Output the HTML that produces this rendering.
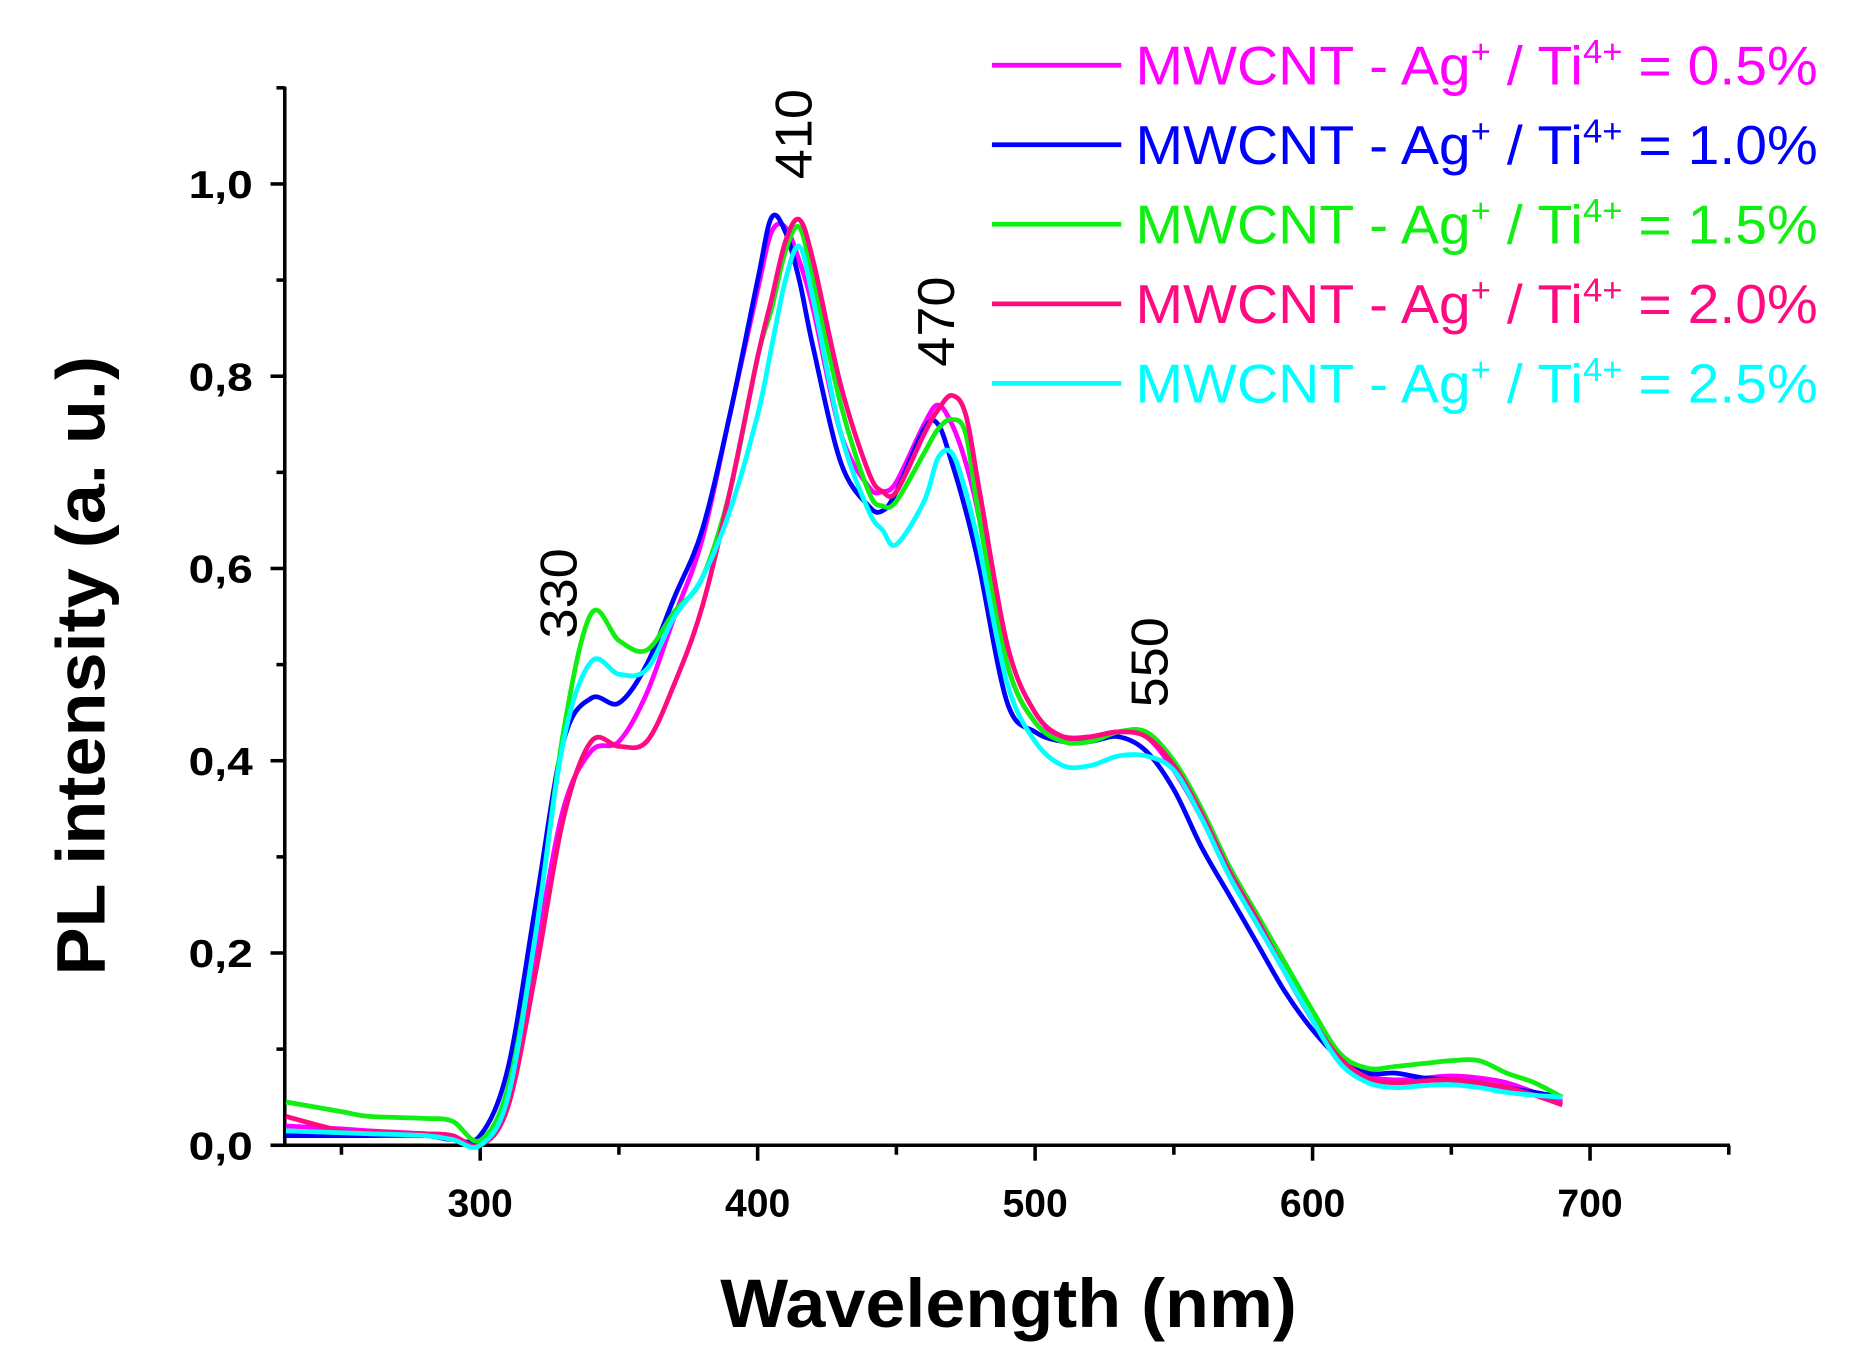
<!DOCTYPE html>
<html><head><meta charset="utf-8"><style>
html,body{margin:0;padding:0;background:#fff;}
svg{display:block;}
text{font-family:"Liberation Sans",Arial,sans-serif;}
</style></head><body>
<svg id="chart" width="1851" height="1366" viewBox="0 0 1560 1151" preserveAspectRatio="none" xmlns="http://www.w3.org/2000/svg">
<g id="axes"></g>
<g id="series"></g>
<g id="legend"></g>
<g id="annotations"></g>
</svg>
<script>
const wl = [230,250,260,280,290,300,310,320,330,340,350,360,370,380,390,400,405,410,415,420,430,440,445,450,460,465,470,475,480,490,500,510,520,530,540,550,560,570,580,590,600,610,620,630,640,650,660,670,680,690];
const s05 = [0.02,0.017,0.015,0.012,0.01,0.0,0.05,0.2,0.35,0.41,0.42,0.47,0.55,0.63,0.76,0.89,0.95,0.955,0.92,0.87,0.74,0.685,0.68,0.69,0.75,0.77,0.75,0.71,0.65,0.5,0.44,0.425,0.425,0.43,0.425,0.39,0.34,0.28,0.23,0.18,0.13,0.09,0.072,0.068,0.07,0.072,0.07,0.065,0.055,0.045];
const s10 = [0.01,0.01,0.01,0.01,0.006,0.01,0.08,0.25,0.42,0.465,0.46,0.5,0.57,0.64,0.76,0.9,0.965,0.95,0.9,0.83,0.71,0.665,0.66,0.68,0.745,0.75,0.71,0.66,0.6,0.46,0.43,0.42,0.42,0.425,0.41,0.37,0.31,0.26,0.21,0.16,0.12,0.09,0.075,0.075,0.07,0.068,0.065,0.06,0.055,0.05];
const s15 = [0.045,0.035,0.03,0.028,0.025,0.005,0.06,0.22,0.43,0.553,0.525,0.515,0.555,0.59,0.68,0.82,0.87,0.93,0.955,0.9,0.77,0.68,0.665,0.67,0.72,0.745,0.755,0.74,0.65,0.5,0.44,0.42,0.42,0.43,0.43,0.4,0.35,0.29,0.24,0.19,0.14,0.095,0.08,0.082,0.085,0.088,0.088,0.075,0.065,0.05];
const s20 = [0.03,0.015,0.014,0.012,0.01,0.0,0.04,0.18,0.34,0.42,0.415,0.42,0.48,0.56,0.68,0.82,0.88,0.94,0.963,0.92,0.79,0.7,0.68,0.68,0.74,0.765,0.78,0.76,0.68,0.52,0.45,0.425,0.425,0.43,0.425,0.395,0.345,0.285,0.235,0.18,0.13,0.09,0.07,0.065,0.067,0.068,0.065,0.06,0.052,0.042];
const s25 = [0.015,0.013,0.012,0.01,0.006,-0.005,0.05,0.22,0.42,0.503,0.49,0.495,0.55,0.59,0.66,0.76,0.83,0.9,0.935,0.88,0.74,0.66,0.64,0.625,0.67,0.715,0.72,0.68,0.62,0.48,0.42,0.395,0.395,0.405,0.405,0.39,0.34,0.28,0.23,0.18,0.13,0.085,0.065,0.06,0.062,0.063,0.06,0.055,0.052,0.05];
const seriesValues = [s05,s10,s15,s20,s25];
const seriesLabels = ["0.5%","1.0%","1.5%","2.0%","2.5%"];
const xTicks = [300,400,500,600,700];
const yTicks = [0,0.2,0.4,0.6,0.8,1.0];
const yTickLabels = ["0,0","0,2","0,4","0,6","0,8","1,0"];
const peaks = [330,410,470,550];

const colors = ["#ff00ff","#0000ff","#11ee11","#ff0a80","#00ffff"];
const NS="http://www.w3.org/2000/svg";
const X0=230,X1=750,PX0=241,PX1=1457;
const xs = v => PX0 + (v-X0)*(PX1-PX0)/(X1-X0);
const ys = v => 965 - v*810;
function mk(tag, attrs, parent){const e=document.createElementNS(NS,tag);for(const k in attrs)e.setAttribute(k,attrs[k]);parent.appendChild(e);return e;}
const axes=document.getElementById('axes');
let e;
e=mk('line',{x1:240,y1:73,x2:240,y2:966,stroke:'#000','stroke-width':3},axes);


e=mk('line',{x1:228,y1:965,x2:1458,y2:965,stroke:'#000','stroke-width':3},axes);


for(let i=0;i<=11;i++){const v=i/10;const y=ys(v);const major=(i%2===0);
 e=mk('line',{x1:major?228:233,y1:y,x2:240,y2:y,stroke:'#000','stroke-width':3},axes);
 
 }
yTicks.forEach((v,i)=>{e=mk('text',{x:213,y:ys(v)+12,'text-anchor':'end','font-size':33,'font-weight':'bold',textLength:54,lengthAdjust:'spacingAndGlyphs'},axes);e.textContent=yTickLabels[i];
 
 });
for(let v=250;v<=750;v+=50){const x=xs(v);const major=(v%100===0);
 e=mk('line',{x1:x,y1:965,x2:x,y2:major?978:973,stroke:'#000','stroke-width':3},axes);
 
 }
xTicks.forEach(v=>{e=mk('text',{x:xs(v),y:1025,'text-anchor':'middle','font-size':33,'font-weight':'bold'},axes);e.textContent=String(v);
 
 });
e=mk('text',{x:607,y:1118,'font-size':58,'font-weight':'bold',textLength:486,lengthAdjust:'spacingAndGlyphs'},axes);e.textContent='Wavelength (nm)';


e=mk('text',{x:0,y:0,'font-size':58,'font-weight':'bold',textLength:522,lengthAdjust:'spacingAndGlyphs',transform:'translate(88,822) rotate(-90)'},axes);e.textContent='PL intensity (a. u.)';



const sg=document.getElementById('series');
seriesValues.forEach((arr,si)=>{
 const pts=arr.map((v,i)=>[xs(wl[i]),ys(Math.max(v,0))]);
 let d='M'+pts[0][0]+','+pts[0][1];
 for(let i=0;i<pts.length-1;i++){const p0=pts[Math.max(i-1,0)],p1=pts[i],p2=pts[i+1],p3=pts[Math.min(i+2,pts.length-1)];
  const c1x=p1[0]+(p2[0]-p0[0])/6,c1y=p1[1]+(p2[1]-p0[1])/6,c2x=p2[0]-(p3[0]-p1[0])/6,c2y=p2[1]-(p3[1]-p1[1])/6;
  d+=` C${c1x},${c1y} ${c2x},${c2y} ${p2[0]},${p2[1]}`;}
 e=mk('path',{d:d,fill:'none',stroke:colors[si],'stroke-width':4,'stroke-linejoin':'round'},sg);
 
 
});

const lg=document.getElementById('legend');
seriesLabels.forEach((lab,i)=>{const y=55+i*67;
 e=mk('line',{x1:836,y1:y,x2:945,y2:y,stroke:colors[i],'stroke-width':4},lg);
 
 
 e=mk('text',{x:957,y:y+16,'font-size':46,fill:colors[i],textLength:575,lengthAdjust:'spacingAndGlyphs'},lg);
 e.innerHTML='MWCNT - Ag<tspan dy="-18" font-size="28">+</tspan><tspan dy="18"> / Ti</tspan><tspan dy="-18" font-size="28">4+</tspan><tspan dy="18"> = '+lab+'</tspan>';
 
 
});

const ag=document.getElementById('annotations');
const peakPos={330:[486,538],410:[684,151],470:[804,309],550:[984,596]};
peaks.forEach(p=>{
 const pos=peakPos[p];
 e=mk('text',{x:0,y:0,'font-size':44,textLength:76,lengthAdjust:'spacingAndGlyphs',transform:`translate(${pos[0]},${pos[1]}) rotate(-90)`},ag);
 e.textContent=String(p);
 
 
});
</script>
</body></html>
